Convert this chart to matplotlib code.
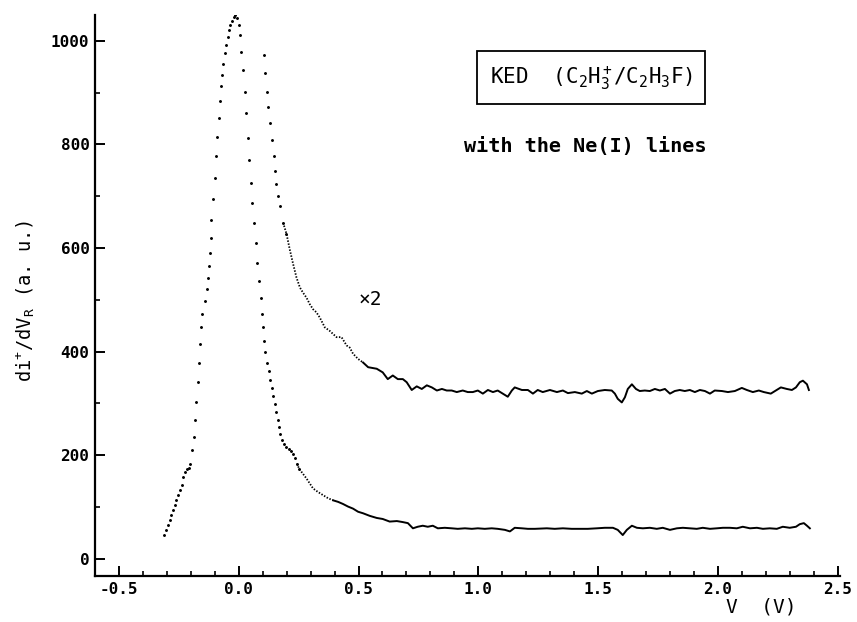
import numpy as np
import matplotlib
matplotlib.use('Agg')
import matplotlib.pyplot as plt

# KED spectrum: voltage (V) and signal (a.u.)
ked_v = [-0.312, -0.302, -0.295, -0.288, -0.281, -0.274, -0.267, -0.260, -0.253, -0.246,
         -0.239, -0.233, -0.225, -0.216, -0.207, -0.202, -0.195, -0.188, -0.184, -0.177,
         -0.172, -0.167, -0.163, -0.159, -0.152, -0.139, -0.132, -0.128, -0.124, -0.121,
         -0.118, -0.114, -0.107, -0.100, -0.093, -0.089, -0.084, -0.079, -0.075, -0.070,
         -0.066, -0.058, -0.054, -0.047, -0.042, -0.035, -0.028, -0.021, -0.014, -0.007,
         0.000, 0.004, 0.011, 0.018, 0.025, 0.032, 0.038, 0.043, 0.049, 0.056,
         0.063, 0.070, 0.076, 0.084, 0.091, 0.096, 0.102, 0.106, 0.111, 0.118,
         0.125, 0.131, 0.138, 0.143, 0.150, 0.156, 0.162, 0.167, 0.174, 0.181,
         0.189, 0.199, 0.209, 0.218, 0.227, 0.235, 0.243, 0.252, 0.283, 0.310,
         0.331, 0.352, 0.373, 0.394, 0.415, 0.435, 0.456, 0.477, 0.498, 0.519,
         0.547, 0.576, 0.601, 0.630, 0.660, 0.685, 0.706, 0.727, 0.747, 0.768,
         0.789, 0.810, 0.831, 0.860, 0.889, 0.914, 0.944, 0.973, 0.998, 1.027,
         1.056, 1.081, 1.111, 1.132, 1.152, 1.182, 1.207, 1.236, 1.286, 1.319,
         1.353, 1.390, 1.424, 1.457, 1.495, 1.528, 1.562, 1.582, 1.603, 1.620,
         1.641, 1.662, 1.687, 1.716, 1.745, 1.770, 1.800, 1.829, 1.854, 1.883,
         1.912, 1.937, 1.967, 1.996, 2.021, 2.050, 2.079, 2.104, 2.134, 2.163,
         2.188, 2.217, 2.246, 2.271, 2.300, 2.326, 2.342, 2.359, 2.372, 2.384]
ked_i = [46, 56, 65, 75, 85, 94, 104, 113, 123, 133,
         142, 158, 168, 173, 175, 184, 210, 235, 269, 302,
         341, 378, 415, 447, 473, 498, 521, 543, 565, 591,
         620, 655, 694, 735, 777, 815, 851, 884, 912, 935,
         956, 976, 992, 1008, 1020, 1030, 1039, 1046, 1049, 1044,
         1030, 1011, 979, 944, 902, 860, 812, 769, 726, 687,
         649, 610, 572, 537, 503, 473, 447, 421, 399, 379,
         363, 346, 330, 314, 299, 283, 269, 254, 242, 230,
         221, 216, 213, 208, 202, 194, 184, 174, 155, 136,
         129, 123, 117, 113, 110, 106, 101, 97, 91, 88,
         83, 79, 77, 72, 73, 71, 69, 59, 62, 64,
         62, 64, 59, 60, 59, 58, 59, 58, 59, 58,
         59, 58, 56, 53, 60, 59, 58, 58, 59, 58,
         59, 58, 58, 58, 59, 60, 60, 56, 46, 56,
         64, 60, 59, 60, 58, 60, 56, 59, 60, 59,
         58, 60, 58, 59, 60, 60, 59, 62, 59, 60,
         58, 59, 58, 62, 60, 62, 67, 69, 64, 59]

# x2 magnified trace
x2_v = [0.106, 0.111, 0.117, 0.124, 0.129, 0.138, 0.145, 0.150, 0.156, 0.163,
        0.171, 0.185, 0.199, 0.213, 0.227, 0.241, 0.255, 0.268, 0.283, 0.296,
        0.310, 0.324, 0.338, 0.359, 0.380, 0.394, 0.408, 0.429, 0.450, 0.463,
        0.477, 0.498, 0.519, 0.540, 0.576, 0.601, 0.622, 0.643, 0.664, 0.685,
        0.701, 0.722, 0.743, 0.764, 0.785, 0.806, 0.827, 0.848, 0.868, 0.889,
        0.910, 0.935, 0.956, 0.977, 0.998, 1.019, 1.040, 1.061, 1.081, 1.102,
        1.123, 1.140, 1.152, 1.182, 1.207, 1.228, 1.248, 1.269, 1.299, 1.328,
        1.353, 1.374, 1.403, 1.432, 1.453, 1.474, 1.499, 1.528, 1.557, 1.570,
        1.582, 1.599, 1.612, 1.624, 1.641, 1.658, 1.674, 1.695, 1.716, 1.737,
        1.758, 1.779, 1.800, 1.820, 1.841, 1.862, 1.883, 1.904, 1.925, 1.946,
        1.967, 1.987, 2.017, 2.042, 2.071, 2.100, 2.121, 2.146, 2.171, 2.192,
        2.221, 2.242, 2.263, 2.288, 2.309, 2.326, 2.342, 2.355, 2.372, 2.380]
x2_i = [973, 937, 902, 873, 841, 809, 777, 748, 723, 700,
        681, 649, 628, 597, 569, 543, 524, 514, 504, 492,
        482, 476, 466, 447, 440, 434, 428, 428, 412, 408,
        396, 386, 379, 370, 367, 360, 347, 354, 347, 347,
        341, 326, 333, 328, 335, 331, 325, 328, 325, 325,
        322, 325, 322, 322, 325, 319, 326, 322, 325, 319,
        313, 325, 331, 326, 326, 319, 326, 322, 326, 322,
        325, 320, 322, 319, 324, 319, 324, 326, 325, 319,
        309, 302, 312, 328, 337, 328, 324, 325, 324, 328,
        325, 328, 319, 324, 326, 324, 326, 322, 326, 324,
        319, 325, 324, 322, 324, 330, 326, 322, 325, 322,
        319, 325, 331, 328, 326, 331, 341, 344, 337, 326]

x_ticks = [-0.5, 0.0, 0.5, 1.0, 1.5, 2.0, 2.5]
y_ticks = [0, 200, 400, 600, 800, 1000]

plt.rcParams['font.family'] = 'DejaVu Sans Mono'
plt.rcParams['mathtext.fontset'] = 'custom'
plt.rcParams['mathtext.rm'] = 'DejaVu Sans Mono'
plt.rcParams['mathtext.it'] = 'DejaVu Sans Mono'

fig = plt.figure(figsize=(8.57, 6.22), dpi=100)
ax = fig.add_axes([0.1109, 0.0740, 0.8693, 0.902])

kv, ki = np.array(ked_v), np.array(ked_i)
xv, xi = np.array(x2_v), np.array(x2_i)

# sparse dots on the steep part, near-continuous trace on the tail
ax.plot(kv[kv < 0.26], ki[kv < 0.26], 'k.', ms=2.2)
m = (kv > 0.24) & (kv < 0.40)
ax.plot(kv[m], ki[m], color='k', lw=1.3, ls=(0, (0.8, 0.9)))
ax.plot(kv[kv >= 0.38], ki[kv >= 0.38], color='k', lw=1.4)

ax.plot(xv[xv < 0.2], xi[xv < 0.2], 'k.', ms=2.2)
m = (xv > 0.18) & (xv < 0.52)
ax.plot(xv[m], xi[m], color='k', lw=1.3, ls=(0, (0.8, 0.9)))
ax.plot(xv[xv >= 0.5], xi[xv >= 0.5], color='k', lw=1.4)

ax.set_xlim(-0.6, 2.51)
ax.set_ylim(-33, 1050)
ax.set_xticks(x_ticks)
ax.set_xticklabels(['-0.5', '0.0', '0.5', '1.0', '1.5', '2.0', '2.5'])
ax.set_yticks(y_ticks)
ax.set_xticks(np.arange(-0.6, 2.55, 0.1), minor=True)
ax.set_yticks(np.arange(100, 1000, 200), minor=True)

for s in ['top', 'right']:
    ax.spines[s].set_visible(False)
for s in ['left', 'bottom']:
    ax.spines[s].set_linewidth(1.6)

ax.tick_params(which='major', direction='in', length=7, width=1.4,
               labelsize=11.5, pad=4)
ax.tick_params(which='minor', direction='in', length=3.5, width=1.2)
for lab in ax.get_xticklabels() + ax.get_yticklabels():
    lab.set_fontweight('bold')

ax.set_ylabel(r'di$^{+}$/dV$_{R}$ (a. u.)', fontsize=13.5)
ax.yaxis.set_label_coords(-0.078, 0.49)
fig.text(0.888, 0.024, 'V  (V)', fontsize=14, ha='center', va='center')

ax.text(0.666, 0.888, r'KED  (C$_2$H$_3^+$/C$_2$H$_3$F)', transform=ax.transAxes,
        fontsize=15, ha='center', va='center',
        bbox=dict(boxstyle='square,pad=0.6', fc='white', ec='k', lw=1.3))
ax.text(0.658, 0.765, 'with the Ne(I) lines', transform=ax.transAxes,
        fontsize=14.5, ha='center', va='center', fontweight='bold')
ax.text(0.55, 500, '×2', fontsize=14, ha='center', va='center')

plt.savefig('out.png', dpi=100)
